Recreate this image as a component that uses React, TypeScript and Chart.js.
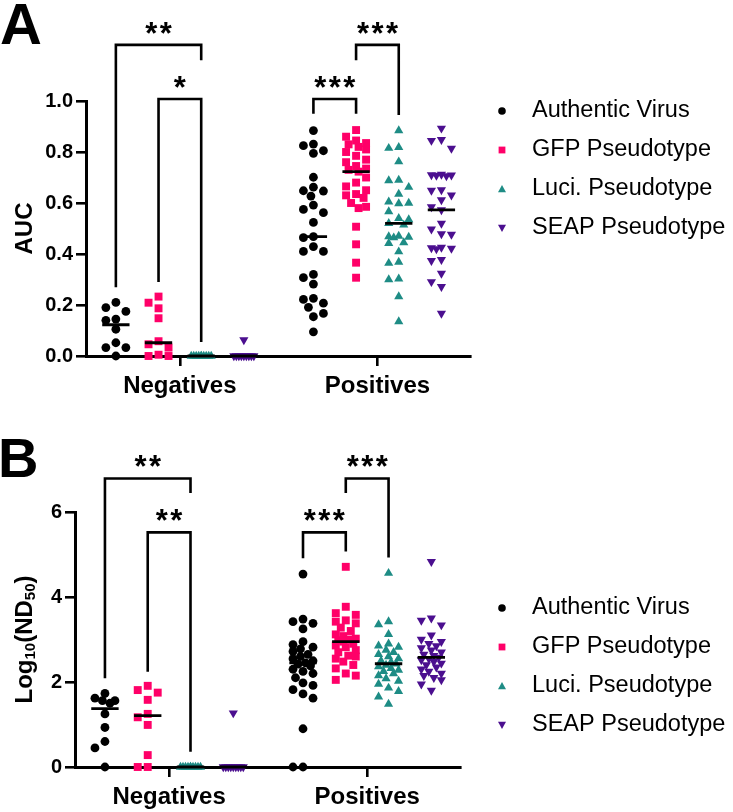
import React, { useEffect, useRef } from 'react';
import { Chart, registerables } from 'chart.js';

Chart.register(...registerables);

const FONT = "'Liberation Sans', Arial, Helvetica, sans-serif";

// ---------- categories / series ----------
const groups = ['Negatives', 'Positives'];
const groupCenters = [0, 4.63];
const seriesNames = ['Authentic Virus', 'GFP Pseudotype', 'Luci. Pseudotype', 'SEAP Pseudotype'];
const seriesOffsets = [-1.5, -0.5, 0.5, 1.5];
const seriesColors = ['#000000', '#FF0068', '#1E8C85', '#4B0F8F'];
const seriesShapes = ['circle', 'rect', 'triangle', 'triangle'];
const seriesRotation = [0, 0, 0, 180];
const seriesRadius = [4.4, 5.6, 5.3, 5.3];

// ---------- Panel A: AUC ----------
const aucNegAuthentic = [0.21, 0.19, 0.175, 0.145, 0.14, 0.105, 0.052, 0.033, 0.033, 0.0];
const aucNegGFP = [0.233, 0.209, 0.187, 0.148, 0.058, 0.046, 0.033, 0.005, 0.0, 0.0];
const aucNegLuci = [0, 0, 0, 0, 0, 0, 0, 0, 0, 0];
const aucNegSEAP = [0.063, 0, 0, 0, 0, 0, 0, 0, 0, 0];
const aucPosAuthentic = [0.884, 0.831, 0.825, 0.805, 0.795, 0.701, 0.662, 0.648, 0.647, 0.627, 0.592, 0.575, 0.562, 0.524, 0.468, 0.464, 0.429, 0.41, 0.41, 0.32, 0.307, 0.282, 0.226, 0.222, 0.207, 0.191, 0.167, 0.154, 0.095];
const aucPosGFP = [0.886, 0.86, 0.845, 0.835, 0.83, 0.82, 0.81, 0.8, 0.785, 0.77, 0.76, 0.745, 0.735, 0.73, 0.723, 0.7, 0.68, 0.665, 0.65, 0.635, 0.63, 0.62, 0.6, 0.585, 0.58, 0.507, 0.438, 0.366, 0.307];
const aucPosLuci = [0.884, 0.818, 0.815, 0.762, 0.69, 0.688, 0.662, 0.635, 0.605, 0.6, 0.598, 0.566, 0.54, 0.535, 0.52, 0.514, 0.47, 0.468, 0.466, 0.464, 0.445, 0.442, 0.409, 0.368, 0.364, 0.303, 0.3, 0.233, 0.135];
const aucPosSEAP = [0.893, 0.848, 0.845, 0.814, 0.712, 0.71, 0.709, 0.708, 0.706, 0.651, 0.649, 0.631, 0.612, 0.585, 0.573, 0.52, 0.497, 0.479, 0.477, 0.426, 0.424, 0.422, 0.42, 0.378, 0.374, 0.324, 0.291, 0.272, 0.167];
const aucTicks = [0, 0.2, 0.4, 0.6, 0.8, 1.0];

// ---------- Panel B: Log10(ND50) ----------
const ndNegAuthentic = [1.73, 1.62, 1.56, 1.56, 1.5, 1.25, 0.93, 0.6, 0.45, 0];
const ndNegGFP = [1.91, 1.81, 1.75, 1.58, 1.25, 1.17, 0.99, 0.28, 0, 0];
const ndNegLuci = [0, 0, 0, 0, 0, 0, 0, 0, 0, 0];
const ndNegSEAP = [1.27, 0, 0, 0, 0, 0, 0, 0, 0, 0];
const ndPosAuthentic = [4.54, 3.48, 3.42, 3.38, 3.25, 2.95, 2.88, 2.82, 2.78, 2.72, 2.65, 2.6, 2.55, 2.5, 2.45, 2.42, 2.38, 2.3, 2.25, 2.2, 2.1, 1.98, 1.92, 1.82, 1.72, 1.62, 0.9, 0, 0];
const ndPosGFP = [4.71, 3.77, 3.62, 3.58, 3.45, 3.42, 3.38, 3.28, 3.2, 3.12, 3.08, 3.02, 3.0, 2.98, 2.95, 2.9, 2.86, 2.82, 2.75, 2.7, 2.62, 2.6, 2.55, 2.48, 2.4, 2.32, 2.2, 2.15, 2.05];
const ndPosLuci = [4.56, 3.42, 3.35, 3.12, 2.9, 2.85, 2.82, 2.75, 2.7, 2.65, 2.6, 2.55, 2.5, 2.47, 2.43, 2.4, 2.36, 2.32, 2.28, 2.25, 2.2, 2.15, 2.08, 2.02, 1.95, 1.86, 1.78, 1.65, 1.48];
const ndPosSEAP = [4.83, 3.5, 3.45, 3.34, 3.1, 3.0, 2.95, 2.9, 2.85, 2.8, 2.75, 2.7, 2.65, 2.62, 2.58, 2.55, 2.52, 2.48, 2.44, 2.4, 2.35, 2.3, 2.25, 2.2, 2.15, 2.1, 2.05, 1.95, 1.8];
const ndTicks = [0, 2, 4, 6];

// ---------- significance comparisons ----------
type Bracket = { group: number; a: number; b: number; level: number; legA: number; legB: number; label: string };
const aucBrackets: Bracket[] = [
  { group: 0, a: 0, b: 2, level: 1.22, legA: 0.27, legB: 1.16, label: '**' },
  { group: 0, a: 1, b: 2, level: 1.008, legA: 0.29, legB: 0.055, label: '*' },
  { group: 1, a: 0, b: 1, level: 1.008, legA: 0.95, legB: 0.95, label: '***' },
  { group: 1, a: 1, b: 2, level: 1.22, legA: 1.16, legB: 0.945, label: '***' },
];
const ndBrackets: Bracket[] = [
  { group: 0, a: 0, b: 2, level: 6.79, legA: 2.09, legB: 6.45, label: '**' },
  { group: 0, a: 1, b: 2, level: 5.52, legA: 2.24, legB: 0.36, label: '**' },
  { group: 1, a: 0, b: 1, level: 5.52, legA: 4.91, legB: 5.07, label: '***' },
  { group: 1, a: 1, b: 2, level: 6.79, legA: 6.45, legB: 4.93, label: '***' },
];

type Seg = { t: string; sub?: boolean };
type Panel = {
  values: number[][][];
  yMax: number;
  ticks: number[];
  decimals: number;
  padTop: number;
  padRight: number;
  yWidth: number;
  xHeight: number;
  brackets: Bracket[];
  letter: string;
  letterX: number;
  letterY: number;
  letterSize: number;
  title: Seg[];
  legendY0: number;
  legendDy: number;
};

const panelA: Panel = {
  values: [
    [aucNegAuthentic, aucNegGFP, aucNegLuci, aucNegSEAP],
    [aucPosAuthentic, aucPosGFP, aucPosLuci, aucPosSEAP],
  ],
  yMax: 1.0,
  ticks: aucTicks,
  decimals: 1,
  padTop: 101,
  padRight: 263,
  yWidth: 86,
  xHeight: 50,
  brackets: aucBrackets,
  letter: 'A',
  letterX: 0,
  letterY: 44,
  letterSize: 58,
  title: [{ t: 'AUC' }],
  legendY0: 111,
  legendDy: 39,
};

const panelB: Panel = {
  values: [
    [ndNegAuthentic, ndNegGFP, ndNegLuci, ndNegSEAP],
    [ndPosAuthentic, ndPosGFP, ndPosLuci, ndPosSEAP],
  ],
  yMax: 6,
  ticks: ndTicks,
  decimals: 0,
  padTop: 106,
  padRight: 273,
  yWidth: 75,
  xHeight: 45,
  brackets: ndBrackets,
  letter: 'B',
  letterX: -2,
  letterY: 71,
  letterSize: 56,
  title: [{ t: 'Log' }, { t: '10', sub: true }, { t: '(ND' }, { t: '50', sub: true }, { t: ')' }],
  legendY0: 202,
  legendDy: 39,
};

const colX = (g: number, s: number) => groupCenters[g] + seriesOffsets[s];
const MEDIAN_HALF = 0.32;

function median(arr: number[]): number {
  const s = [...arr].sort((a, b) => a - b);
  const n = s.length;
  return n % 2 ? s[(n - 1) / 2] : (s[n / 2 - 1] + s[n / 2]) / 2;
}

// simple beeswarm: horizontal pixel offsets so that markers do not overlap
const SWARM_CANDS = [0, -10, 10, -5, 5, -7.5, 7.5, -2.5, 2.5];
function swarm(py: number[], diam: number): number[] {
  const order = py.map((_, i) => i).sort((a, b) => py[a] - py[b]);
  const placed: { x: number; y: number }[] = [];
  const out = new Array(py.length).fill(0);
  for (const i of order) {
    let best = SWARM_CANDS[0];
    let bestD = -1;
    for (const c of SWARM_CANDS) {
      let md = Infinity;
      for (const p of placed) {
        const d = Math.hypot(p.x - c, p.y - py[i]);
        if (d < md) md = d;
      }
      if (md >= diam) {
        best = c;
        break;
      }
      if (md > bestD + 1e-6) {
        bestD = md;
        best = c;
      }
    }
    out[i] = best;
    placed.push({ x: best, y: py[i] });
  }
  return out;
}

function drawMarker(ctx: CanvasRenderingContext2D, s: number, x: number, y: number) {
  ctx.fillStyle = seriesColors[s];
  ctx.beginPath();
  if (s === 0) {
    ctx.arc(x, y, 3.8, 0, Math.PI * 2);
  } else if (s === 1) {
    ctx.rect(x - 3.4, y - 3.4, 6.8, 6.8);
  } else if (s === 2) {
    ctx.moveTo(x, y - 4);
    ctx.lineTo(x + 4, y + 3.2);
    ctx.lineTo(x - 4, y + 3.2);
    ctx.closePath();
  } else {
    ctx.moveTo(x, y + 4);
    ctx.lineTo(x + 4, y - 3.2);
    ctx.lineTo(x - 4, y - 3.2);
    ctx.closePath();
  }
  ctx.fill();
}

function makePlugin(p: Panel) {
  return {
    id: 'figAnno',
    afterDraw(chart: any) {
      const ctx: CanvasRenderingContext2D = chart.ctx;
      const xs = chart.scales.x;
      const ys = chart.scales.y;
      const area = chart.chartArea;
      ctx.save();
      ctx.fillStyle = '#000';
      // panel letter
      ctx.font = `bold ${p.letterSize}px ${FONT}`;
      ctx.textAlign = 'left';
      ctx.textBaseline = 'alphabetic';
      ctx.fillText(p.letter, p.letterX, p.letterY);

      // y axis title (rotated, with subscripts)
      const mainF = `bold 24px ${FONT}`;
      const subF = `bold 15px ${FONT}`;
      let W = 0;
      const widths = p.title.map((sg) => {
        ctx.font = sg.sub ? subF : mainF;
        const w = ctx.measureText(sg.t).width;
        W += w;
        return w;
      });
      ctx.save();
      ctx.translate(25, (area.top + area.bottom) / 2);
      ctx.rotate(-Math.PI / 2);
      ctx.textBaseline = 'middle';
      let cx = -W / 2;
      p.title.forEach((sg, i) => {
        ctx.font = sg.sub ? subF : mainF;
        ctx.fillText(sg.t, cx, sg.sub ? 6 : 0);
        cx += widths[i];
      });
      ctx.restore();

      // significance brackets
      ctx.strokeStyle = '#000';
      ctx.lineWidth = 2.6;
      ctx.lineJoin = 'miter';
      ctx.lineCap = 'butt';
      ctx.font = `bold 31px ${FONT}`;
      ctx.textAlign = 'center';
      ctx.textBaseline = 'alphabetic';
      const m = ctx.measureText('*');
      const asc = m.actualBoundingBoxAscent;
      const desc = m.actualBoundingBoxDescent;
      p.brackets.forEach((b) => {
        const xa = xs.getPixelForValue(colX(b.group, b.a));
        const xb = xs.getPixelForValue(colX(b.group, b.b));
        const yl = ys.getPixelForValue(b.level);
        const ya = ys.getPixelForValue(b.legA);
        const yb = ys.getPixelForValue(b.legB);
        ctx.beginPath();
        ctx.moveTo(xa, ya);
        ctx.lineTo(xa, yl);
        ctx.lineTo(xb, yl);
        ctx.lineTo(xb, yb);
        ctx.stroke();
        const cyStar = yl - 17;
        const base = cyStar - (desc - asc) / 2;
        const n = b.label.length;
        const mid = (xa + xb) / 2;
        for (let k = 0; k < n; k++) {
          ctx.fillText('*', mid + (k - (n - 1) / 2) * 14.5, base);
        }
      });

      // legend
      ctx.font = `23.5px ${FONT}`;
      ctx.textAlign = 'left';
      ctx.textBaseline = 'middle';
      seriesNames.forEach((name, s) => {
        const ry = p.legendY0 + s * p.legendDy;
        drawMarker(ctx, s, 502, ry);
        ctx.fillStyle = '#000';
        ctx.fillText(name, 532, ry);
      });
      ctx.restore();
    },
  };
}

function makeChart(canvas: HTMLCanvasElement, p: Panel) {
  const datasets: any[] = [];
  seriesNames.forEach((name, s) => {
    const pts: any[] = [];
    groups.forEach((_, g) => {
      const md = median(p.values[g][s]);
      const cx = colX(g, s);
      pts.push({ x: cx - MEDIAN_HALF, y: md }, { x: cx + MEDIAN_HALF, y: md }, { x: cx, y: null });
    });
    datasets.push({
      type: 'line',
      label: name + ' median',
      data: pts,
      borderColor: '#000',
      borderWidth: 2.8,
      borderCapStyle: 'butt',
      pointRadius: 0,
      fill: false,
      spanGaps: false,
      order: -1,
      clip: false,
    });
  });
  seriesNames.forEach((name, s) => {
    const pts: any[] = [];
    groups.forEach((_, g) => p.values[g][s].forEach((v) => pts.push({ x: colX(g, s), y: v })));
    datasets.push({
      type: 'scatter',
      label: name,
      data: pts,
      pointStyle: seriesShapes[s],
      pointRadius: seriesRadius[s],
      pointHoverRadius: seriesRadius[s],
      pointRotation: seriesRotation[s],
      pointBackgroundColor: seriesColors[s],
      pointBorderColor: seriesColors[s],
      pointBorderWidth: 0,
      backgroundColor: seriesColors[s],
      borderColor: seriesColors[s],
      borderWidth: 0,
      clip: false,
      order: 0,
    });
  });

  const axisGrid = { drawOnChartArea: false, drawTicks: true, tickLength: 10, color: '#000', lineWidth: 2.6, tickWidth: 2.6 };
  const axisBorder = { display: true, color: '#000', width: 3 };

  const chart = new Chart(canvas, {
    type: 'scatter',
    data: { datasets },
    options: {
      responsive: false,
      animation: false,
      devicePixelRatio: 1,
      events: [],
      layout: { padding: { left: 0, top: p.padTop, right: p.padRight, bottom: 0 } },
      scales: {
        x: {
          type: 'linear',
          min: -2.2,
          max: 6.8,
          afterFit: (s: any) => {
            s.height = p.xHeight;
          },
          afterBuildTicks: (s: any) => {
            s.ticks = groupCenters.map((v) => ({ value: v }));
          },
          ticks: {
            callback: (_v: any, i: number) => groups[i],
            font: { family: FONT, size: 24, weight: 'bold' },
            color: '#000',
            padding: 6,
            maxRotation: 0,
            autoSkip: false,
          },
          grid: axisGrid,
          border: axisBorder,
        },
        y: {
          type: 'linear',
          min: 0,
          max: p.yMax,
          afterFit: (s: any) => {
            s.width = p.yWidth;
          },
          afterBuildTicks: (s: any) => {
            s.ticks = p.ticks.map((v) => ({ value: v }));
          },
          ticks: {
            callback: (v: any) => Number(v).toFixed(p.decimals),
            font: { family: FONT, size: 20, weight: 'bold' },
            color: '#000',
            padding: 3,
          },
          grid: axisGrid,
          border: axisBorder,
        },
      },
      plugins: {
        legend: { display: false },
        tooltip: { enabled: false },
      },
    } as any,
    plugins: [makePlugin(p)],
  });

  // beeswarm spreading computed from the scales
  const xs: any = chart.scales.x;
  const ys: any = chart.scales.y;
  const unit = xs.getPixelForValue(1) - xs.getPixelForValue(0);
  seriesNames.forEach((_, s) => {
    const pts: any[] = [];
    groups.forEach((_g, g) => {
      const vals = p.values[g][s];
      const offs = swarm(vals.map((v) => ys.getPixelForValue(v)), 9);
      vals.forEach((v, k) => pts.push({ x: colX(g, s) + offs[k] / unit, y: v }));
    });
    (chart.data.datasets[seriesNames.length + s] as any).data = pts;
  });
  chart.update();
  return chart;
}

export default function App() {
  const refA = useRef<HTMLCanvasElement>(null);
  const refB = useRef<HTMLCanvasElement>(null);
  useEffect(() => {
    const charts = [makeChart(refA.current!, panelA), makeChart(refB.current!, panelB)];
    return () => charts.forEach((c) => c.destroy());
  }, []);
  return (
    <div style={{ position: 'absolute', left: 0, top: 0, width: 733, height: 812, background: '#fff' }}>
      <canvas ref={refA} width={733} height={406} style={{ position: 'absolute', left: 0, top: 0, display: 'block' }} />
      <canvas ref={refB} width={733} height={406} style={{ position: 'absolute', left: 0, top: 406, display: 'block' }} />
    </div>
  );
}
